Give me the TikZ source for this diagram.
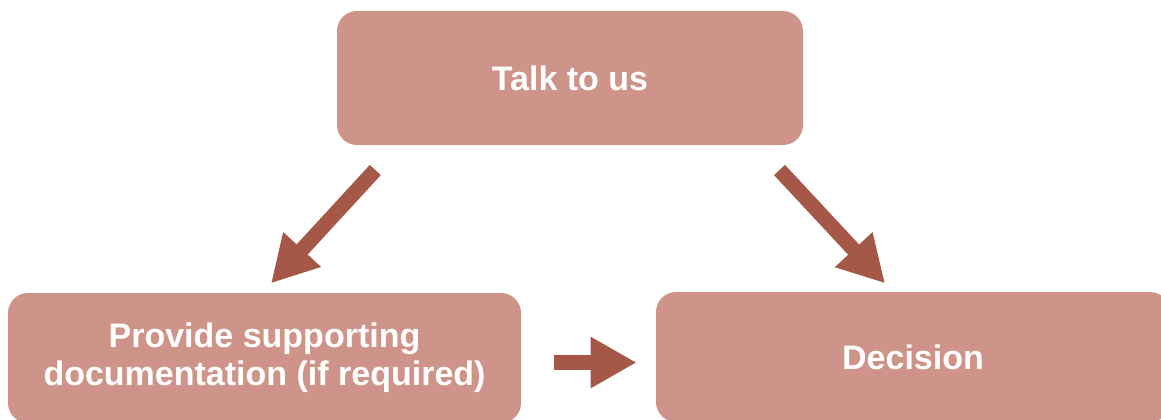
\documentclass[tikz,border=0pt]{standalone}
\usepackage{fontspec}
\setmainfont{Liberation Sans}
\usetikzlibrary{arrows.meta}
\definecolor{boxrose}{RGB}{207,148,137}
\definecolor{arrowbrown}{RGB}{165,87,72}

\begin{document}
\begin{tikzpicture}[x=0.5pt,y=-0.5pt]
  \tikzset{StepBoxStyle/.style = {
    shape           = rectangle,
    rounded corners = 10pt,
    draw            = none,
    fill            = boxrose,
    text            = white,
    font            = \bfseries\fontsize{17pt}{19pt}\selectfont,
    align           = center,
    inner sep       = 0pt,
    outer sep       = 0pt,
    minimum height  = 65pt
    }
  }
  \tikzset{FlowArrowStyle/.style = {
    draw            = arrowbrown,
    line width      = 7.5pt,
    -{Triangle[length=23pt, width=24pt]}
    }
  }
  \useasboundingbox (0,0) rectangle (1161,419);
  \clip (0,0) rectangle (1161,419);

	\node[StepBoxStyle, minimum width=233pt, minimum height=67pt](Talk) at (570,78) {Talk to us};
	\node[StepBoxStyle, minimum width=256.5pt](Provide) at (264.5,358) {Provide supporting\\documentation (if required)};
	\node[StepBoxStyle, minimum width=257pt](Decision) at (913,357) {Decision};
	\draw[FlowArrowStyle]([shift={(38.3,25)}]Talk.south west) to ([shift={(263,-9.7)}]Provide.north west);
	\draw[FlowArrowStyle]([shift={(-23.5,25)}]Talk.south east) to ([shift={(229,-8.7)}]Decision.north west);
	\draw[FlowArrowStyle]([shift={(33.3,4.5)}]Provide.east) to ([shift={(-19.3,5.5)}]Decision.west);

  \end{tikzpicture}
\end{document}
